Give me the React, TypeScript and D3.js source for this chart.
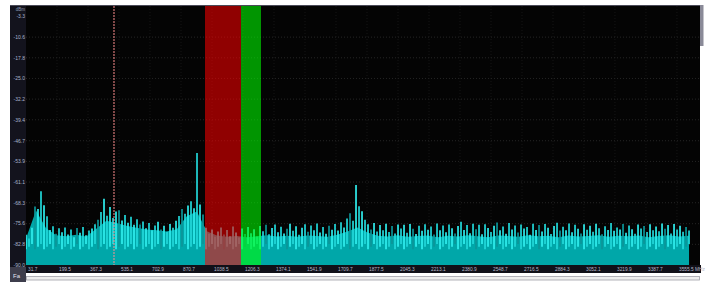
import * as d3 from "d3";

// spectrum peaks, dBm, one every ~16.24 MHz starting at 31.7 MHz
const peakStart = 31.7;
const peakStep = 16.24;
const peaks = [
  -79.5, -80.8, -77.0, -69.6, -70.5, -64.3, -69.2, -73.0, -77.8, -76.5,
  -79.1, -77.2, -78.6, -76.9, -79.4, -77.6, -80.3, -77.1, -78.8, -76.8,
  -79.6, -78.0, -77.3, -75.8, -74.2, -71.5, -66.9, -72.8, -69.8, -73.6,
  -71.4, -70.9, -74.5, -72.6, -75.3, -73.2, -76.0, -74.1, -75.9, -74.8,
  -77.2, -75.4, -77.9, -76.2, -74.9, -77.6, -76.3, -78.4, -75.7, -77.0,
  -74.6, -72.9, -70.5, -72.1, -69.3, -67.8, -70.2, -51.0, -68.9, -72.4,
  -77.0, -79.1, -77.6, -80.2, -78.3, -76.9, -79.4, -77.8, -80.0, -76.6,
  -78.7, -80.4, -77.3, -79.2, -76.8, -78.9, -77.5, -80.1, -76.4, -78.2,
  -76.0, -79.3, -77.1, -75.9, -78.6, -76.7, -79.0, -77.4, -75.6, -78.1,
  -76.5, -79.5, -77.0, -75.8, -78.4, -76.2, -77.9, -75.5, -78.7, -76.8,
  -79.1, -76.3, -77.7, -75.7, -78.0, -75.1, -76.9, -73.8, -72.0, -74.6,
  -62.1, -69.5, -71.3, -74.2, -75.8, -77.6, -75.4, -78.3, -76.1, -77.9,
  -75.6, -78.5, -76.4, -79.0, -75.9, -77.3, -76.0, -78.8, -75.7, -77.4,
  -79.2, -76.3, -78.1, -75.8, -77.7, -76.6, -79.4, -75.5, -77.9, -76.2,
  -78.6, -75.9, -77.2, -79.0, -76.4, -74.9, -77.8, -76.1, -78.9, -75.6,
  -77.5, -76.0, -79.3, -75.8, -77.1, -78.5, -76.3, -75.2, -77.9, -76.6,
  -79.1, -75.4, -77.6, -76.2, -78.7, -75.9, -77.3, -76.8, -79.5, -75.6,
  -77.8, -76.1, -78.3, -75.7, -77.0, -79.2, -76.4, -75.3, -78.0, -76.7,
  -77.9, -75.5, -78.6, -76.0, -77.4, -79.0, -75.8, -77.7, -76.3, -78.4,
  -75.6, -77.2, -79.3, -76.5, -77.8, -75.4, -78.1, -76.9, -77.6, -75.7,
  -78.8, -76.2, -77.5, -79.1, -75.9, -77.3, -76.4, -78.5, -75.8, -77.9,
  -76.6, -78.2, -75.5, -77.4, -76.1, -79.0, -75.7, -77.6, -76.3, -78.4,
  -76.8, -78.0,
];

// averaged floor, dBm
const baseStep = 54.38;
const floor = [
  -80.8, -71.0, -77.2, -79.6, -80.0, -79.5, -80.1, -77.4, -74.6, -75.4,
  -76.3, -77.0, -77.6, -77.9, -78.3, -77.5, -73.0, -71.4, -78.2, -79.7,
  -80.2, -79.9, -80.3, -80.0, -79.6, -80.1, -79.8, -80.2, -79.7, -79.9,
  -80.2, -79.5, -78.3, -76.9, -78.7, -79.8, -80.1, -79.6, -80.2, -79.9,
  -79.7, -80.3, -79.8, -80.1, -79.6, -80.0, -80.3, -79.7, -79.9, -80.2,
  -79.6, -80.0, -79.8, -80.3, -79.7, -80.1, -79.9, -79.6, -80.2, -79.8,
  -80.0, -79.7, -80.3, -79.9, -79.6, -80.1, -79.8,
];

const xTicks = [
  31.7, 199.5, 367.3, 535.1, 702.9, 870.7, 1038.5, 1206.3, 1374.1, 1541.9,
  1709.7, 1877.5, 2045.3, 2213.1, 2380.9, 2548.7, 2716.5, 2884.3, 3052.1,
  3219.9, 3387.7, 3555.5,
];
const yTicks = [
  -90.0, -82.8, -75.6, -68.3, -61.1, -53.9, -46.7, -39.4, -32.2, -25.0, -17.8,
  -10.6, -3.3,
];

const redBand = [1000.6, 1195.5];
const greenBand = [1195.5, 1303.8];
const marker = 508.0;

export default function App() {
  const W = 710;
  const H = 282;
  const plot = { left: 26, right: 700, top: 6, bottom: 265 };

  const x = d3
    .scaleLinear()
    .domain([31.7, 3680.1])
    .range([plot.left, plot.right]);
  const y = d3
    .scaleLinear()
    .domain([-90, 0])
    .range([plot.bottom, 6.7]);

  const floorArea = d3
    .area<number>()
    .x((_, i) => x(peakStart + i * baseStep))
    .y0(plot.bottom)
    .y1((d) => y(d))
    .curve(d3.curveLinear);

  const font = "'Liberation Sans', Arial, sans-serif";

  return (
    <svg
      width={W}
      height={H}
      style={{ position: "absolute", left: 0, top: 0, display: "block" }}
    >
      <rect x={0} y={0} width={W} height={H} fill="#ffffff" />
      {/* panel */}
      <rect x={10} y={5} width={690} height={268} fill="#15151e" />
      <line x1={10} x2={700} y1={5.5} y2={5.5} stroke="#4a4a58" />
      <rect
        x={plot.left}
        y={plot.top}
        width={plot.right - plot.left}
        height={plot.bottom - plot.top}
        fill="#040404"
      />

      {/* grid */}
      {yTicks.slice(1, -1).map((t) => (
        <line
          key={"gy" + t}
          x1={plot.left}
          x2={plot.right}
          y1={y(t)}
          y2={y(t)}
          stroke="#333333"
          strokeWidth={0.7}
          strokeDasharray="1 2"
        />
      ))}
      {xTicks.slice(1).map((t) => (
        <line
          key={"gx" + t}
          x1={x(t)}
          x2={x(t)}
          y1={plot.top}
          y2={plot.bottom}
          stroke="#1e1e1e"
          strokeWidth={0.7}
          strokeDasharray="1 2"
        />
      ))}

      {/* spectrum */}
      <path d={floorArea(floor) ?? ""} fill="#00a7a9" />
      {peaks.map((p, i) => (
        <line
          key={"p" + i}
          x1={x(peakStart + i * peakStep)}
          x2={x(peakStart + i * peakStep)}
          y1={y(p)}
          y2={y(-84.5 + (i % 3) * 0.9)}
          stroke={i % 7 === 3 ? "#0c9598" : i % 2 ? "#22d8da" : "#30eeee"}
          strokeWidth={1.7}
        />
      ))}

      {/* bands */}
      <rect
        x={x(redBand[0])}
        y={plot.top}
        width={x(redBand[1]) - x(redBand[0])}
        height={plot.bottom - plot.top}
        fill="rgb(255,0,0)"
        fillOpacity={0.56}
      />
      <rect
        x={x(greenBand[0])}
        y={plot.top}
        width={x(greenBand[1]) - x(greenBand[0])}
        height={plot.bottom - plot.top}
        fill="rgb(0,255,0)"
        fillOpacity={0.58}
      />

      {/* marker */}
      <line
        x1={x(marker)}
        x2={x(marker)}
        y1={plot.top}
        y2={plot.bottom}
        stroke="#ff8f8f"
        strokeWidth={1}
        strokeDasharray="2 1"
      />

      {/* axes */}
      <rect x={10} y={6} width={16} height={261} fill="#13131d" />
      <rect x={26} y={265} width={675} height={8} fill="#101018" />
      {yTicks.map((t) => (
        <text
          key={"yl" + t}
          x={25}
          y={y(t) + 1.8}
          textAnchor="end"
          fontSize={5}
          fontFamily={font}
          fill="#a9b4cc"
        >
          {t.toFixed(1)}
        </text>
      ))}
      <text
        x={25}
        y={10.5}
        textAnchor="end"
        fontSize={4.5}
        fontFamily={font}
        fill="#8f9ab2"
      >
        dBm
      </text>
      {xTicks.map((t, i) => (
        <text
          key={"xl" + t}
          x={x(t) + 2}
          y={270.8}
          fontSize={4.8}
          fontFamily={font}
          fill="#b8b8c8"
        >
          {i === xTicks.length - 1 ? t.toFixed(1) + " MHz" : t.toFixed(1)}
        </text>
      ))}

      {/* widgets */}
      <rect x={10} y={267} width={16} height={15} fill="#3e3e4c" />
      <text x={13} y={278} fontSize={6} fontFamily={font} fill="#e4e4f0">
        Fa
      </text>
      <rect
        x={26.5}
        y={276.5}
        width={673}
        height={3.5}
        fill="#eeeeee"
        stroke="#a0a0a8"
        strokeWidth={0.8}
      />
      <rect x={700} y={5} width={3.5} height={41} fill="#8a8a98" />
    </svg>
  );
}
